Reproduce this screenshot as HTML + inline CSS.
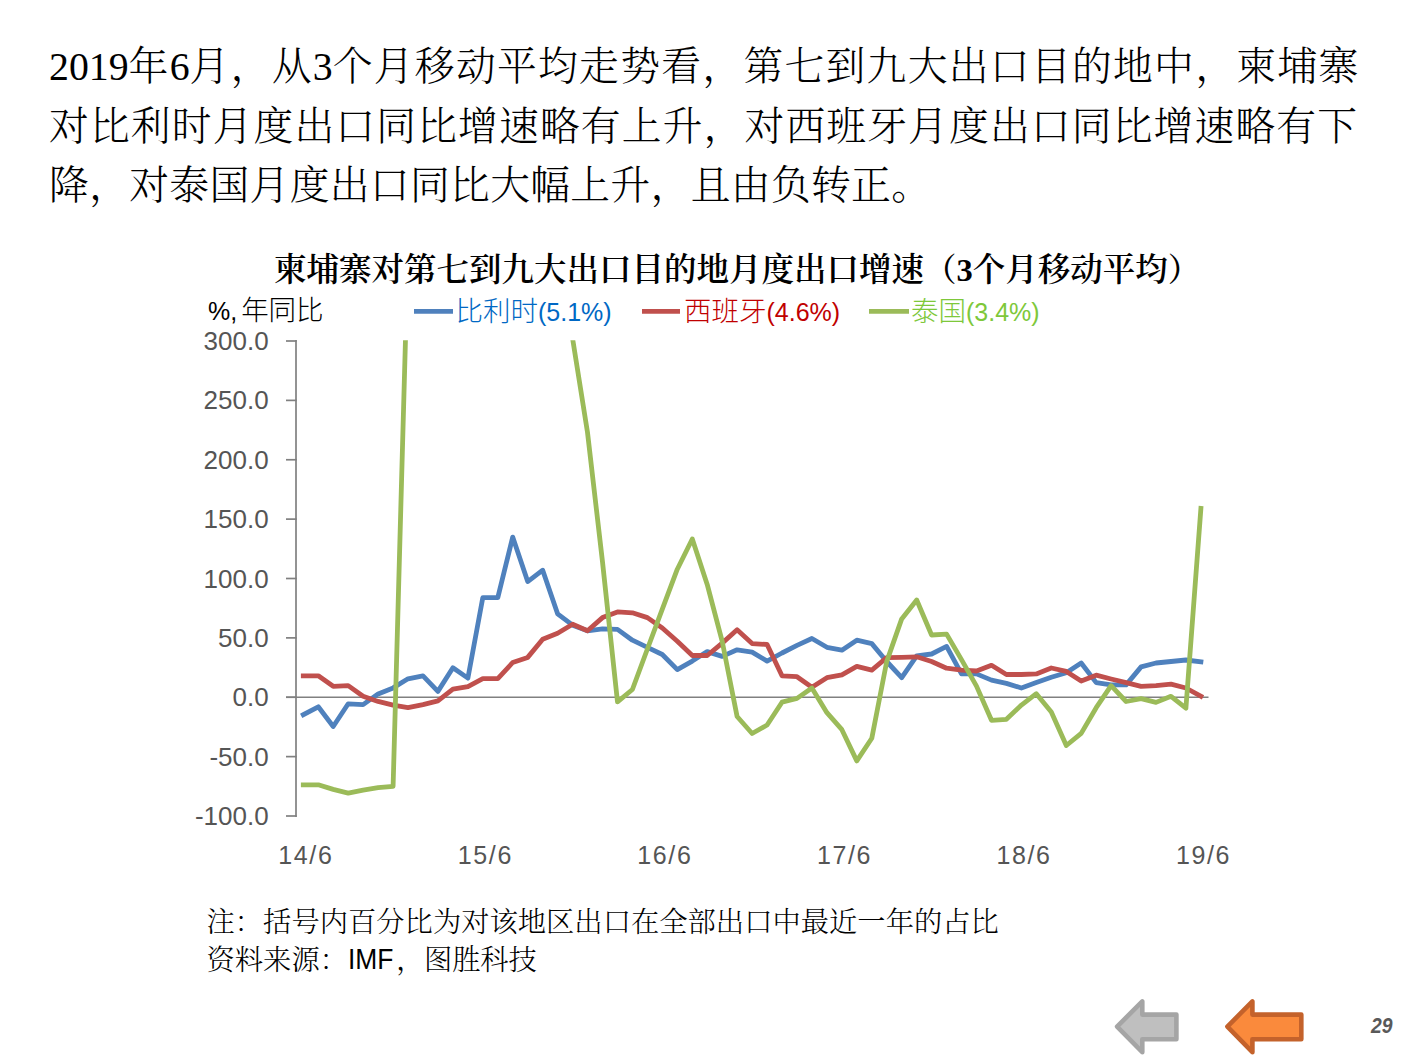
<!DOCTYPE html>
<html><head><meta charset="utf-8">
<style>
html,body{margin:0;padding:0;background:#fff;}
body{width:1411px;height:1058px;overflow:hidden;position:relative;}
svg{position:absolute;left:0;top:0;display:block;}
.para{font-family:"Liberation Serif","Noto Serif CJK SC",serif;font-size:39.8px;font-weight:300;fill:#000;}
.ttl{font-family:"Liberation Serif","Noto Serif CJK SC",serif;font-size:32.5px;font-weight:600;fill:#000;}
.ax{font-family:"Liberation Sans",sans-serif;font-size:25px;fill:#555555;}
.yl{font-size:26px;}
.lg{font-size:27.5px;font-weight:300;}
.cj{font-family:"Liberation Sans","Noto Sans CJK SC",sans-serif;}
.note{font-family:"Liberation Sans","Noto Serif CJK SC",serif;font-size:28.3px;font-weight:300;fill:#000;}
</style></head>
<body>
<svg width="1411" height="1058" viewBox="0 0 1411 1058">
<defs><clipPath id="pa"><rect x="290" y="340.3" width="930" height="480"/></clipPath></defs>
<g class="para">
<text x="49.0 68.9 88.8 108.7 128.6 169.7 189.6 230.6 271.7 312.8 332.7 373.8 414.8 455.9 497.0 538.1 579.1 620.2 661.3 702.3 743.4 784.5 825.6 866.6 907.7 948.8 989.8 1030.9 1072.0 1113.1 1154.1 1195.2 1236.3 1277.4 1318.4" y="80">2019年6月，从3个月移动平均走势看，第七到九大出口目的地中，柬埔寨</text>
<text x="49" y="139.5" textLength="1308" lengthAdjust="spacing">对比利时月度出口同比增速略有上升，对西班牙月度出口同比增速略有下</text>
<text x="49" y="199" textLength="882" lengthAdjust="spacing">降，对泰国月度出口同比大幅上升，且由负转正。</text>
</g>
<text class="ttl" x="274" y="281">柬埔寨对第七到九大出口目的地月度出口增速（3个月移动平均）</text>
<text class="ax cj" x="208" y="320" style="fill:#000">%, <tspan class="lg" dx="-3">年同比</tspan></text>
<g stroke-width="4.6" stroke-linecap="butt">
<line x1="414" y1="311.4" x2="453" y2="311.4" stroke="#4F81BD"/>
<line x1="642" y1="311.4" x2="680" y2="311.4" stroke="#C0504D"/>
<line x1="869" y1="311.4" x2="909" y2="311.4" stroke="#9BBB59"/>
</g>
<text class="ax cj" x="455.5" y="321" style="fill:#0068C4"><tspan class="lg">比利时</tspan>(5.1%)</text>
<text class="ax cj" x="684" y="321" style="fill:#C00000"><tspan class="lg">西班牙</tspan>(4.6%)</text>
<text class="ax cj" x="911" y="321" style="fill:#7EC83A"><tspan class="lg">泰国</tspan>(3.4%)</text>
<g stroke="#808080" stroke-width="1.7" fill="none">
<line x1="296" y1="340.1" x2="296" y2="816.9"/>
<line x1="286" y1="341.00" x2="296.7" y2="341.00"/>
<line x1="286" y1="400.38" x2="296.7" y2="400.38"/>
<line x1="286" y1="459.75" x2="296.7" y2="459.75"/>
<line x1="286" y1="519.12" x2="296.7" y2="519.12"/>
<line x1="286" y1="578.50" x2="296.7" y2="578.50"/>
<line x1="286" y1="637.88" x2="296.7" y2="637.88"/>
<line x1="286" y1="697.25" x2="296.7" y2="697.25"/>
<line x1="286" y1="756.62" x2="296.7" y2="756.62"/>
<line x1="286" y1="816.00" x2="296.7" y2="816.00"/>
<line x1="286" y1="697.25" x2="1208.5" y2="697.25"/>
</g>
<g class="ax yl" text-anchor="end">
<text x="268.7" y="350.0">300.0</text>
<text x="268.7" y="409.4">250.0</text>
<text x="268.7" y="468.8">200.0</text>
<text x="268.7" y="528.1">150.0</text>
<text x="268.7" y="587.5">100.0</text>
<text x="268.7" y="646.9">50.0</text>
<text x="268.7" y="706.2">0.0</text>
<text x="268.7" y="765.6">-50.0</text>
<text x="268.7" y="825.0">-100.0</text>
</g>
<g class="ax">
<text x="278.3" y="864" textLength="53.5" lengthAdjust="spacing">14/6</text>
<text x="457.8" y="864" textLength="53.5" lengthAdjust="spacing">15/6</text>
<text x="637.3" y="864" textLength="53.5" lengthAdjust="spacing">16/6</text>
<text x="816.9" y="864" textLength="53.5" lengthAdjust="spacing">17/6</text>
<text x="996.4" y="864" textLength="53.5" lengthAdjust="spacing">18/6</text>
<text x="1175.9" y="864" textLength="53.5" lengthAdjust="spacing">19/6</text>
</g>
<g clip-path="url(#pa)" fill="none" stroke-width="4.8" stroke-linejoin="round" stroke-linecap="square">
<path d="M303.3 714.7 L318.3 706.8 L333.2 726.5 L348.2 703.8 L363.1 704.6 L378.1 693.9 L393.1 687.9 L408.0 678.8 L423.0 675.8 L437.9 691.4 L452.9 667.7 L467.9 678.1 L482.8 597.6 L497.8 597.6 L512.7 537.1 L527.7 581.6 L542.7 570.2 L557.6 613.8 L572.6 625.2 L587.5 630.8 L602.5 628.9 L617.5 629.4 L632.4 640.2 L647.4 647.3 L662.3 654.5 L677.3 669.6 L692.3 661.1 L707.2 651.6 L722.2 656.4 L737.1 649.8 L752.1 652.1 L767.1 661.1 L782.0 653.0 L797.0 645.4 L811.9 638.5 L826.9 647.3 L841.9 650.2 L856.8 640.2 L871.8 643.6 L886.7 661.5 L901.7 677.7 L916.7 655.8 L931.6 654.0 L946.6 646.4 L961.5 673.9 L976.5 673.9 L991.5 680.1 L1006.4 683.4 L1021.4 688.0 L1036.3 682.6 L1051.3 677.3 L1066.3 672.8 L1081.2 663.0 L1096.2 682.6 L1111.1 684.9 L1126.1 684.9 L1141.1 666.9 L1156.0 663.0 L1171.0 661.5 L1185.9 660.0 L1200.9 661.9" stroke="#4F81BD"/>
<path d="M303.3 675.8 L318.3 675.8 L333.2 686.3 L348.2 685.6 L363.1 696.3 L378.1 701.4 L393.1 705.2 L408.0 707.6 L423.0 704.6 L437.9 700.8 L452.9 689.2 L467.9 686.7 L482.8 678.7 L497.8 678.7 L512.7 662.5 L527.7 657.4 L542.7 639.3 L557.6 633.2 L572.6 624.2 L587.5 630.8 L602.5 617.6 L617.5 611.9 L632.4 612.8 L647.4 617.6 L662.3 628.0 L677.3 641.2 L692.3 655.5 L707.2 655.5 L722.2 643.1 L737.1 629.8 L752.1 643.6 L767.1 644.5 L782.0 675.8 L797.0 676.7 L811.9 687.2 L826.9 677.7 L841.9 674.8 L856.8 666.4 L871.8 670.1 L886.7 657.7 L901.7 657.4 L916.7 656.8 L931.6 661.5 L946.6 668.2 L961.5 670.1 L976.5 671.0 L991.5 665.3 L1006.4 674.5 L1021.4 674.5 L1036.3 673.9 L1051.3 668.0 L1066.3 671.4 L1081.2 681.1 L1096.2 675.2 L1111.1 679.0 L1126.1 682.6 L1141.1 686.4 L1156.0 685.7 L1171.0 684.2 L1185.9 688.0 L1200.9 696.3" stroke="#C0504D"/>
<path d="M303.3 784.8 L318.3 784.8 L333.2 789.4 L348.2 793.1 L363.1 790.1 L378.1 787.7 L393.1 786.3 L408.0 248.4 L423.0 103.5 L437.9 103.5 L452.9 103.5 L467.9 103.5 L482.8 103.5 L497.8 103.5 L512.7 103.5 L527.7 103.5 L542.7 103.5 L557.6 198.5 L572.6 338.6 L587.5 432.4 L602.5 561.9 L617.5 701.9 L632.4 689.5 L647.4 649.0 L662.3 609.1 L677.3 569.2 L692.3 539.0 L707.2 584.4 L722.2 641.4 L737.1 716.5 L752.1 733.5 L767.1 725.0 L782.0 702.2 L797.0 698.4 L811.9 688.0 L826.9 712.7 L841.9 729.7 L856.8 760.9 L871.8 738.2 L886.7 661.6 L901.7 618.9 L916.7 600.0 L931.6 635.0 L946.6 634.1 L961.5 659.6 L976.5 686.1 L991.5 720.3 L1006.4 719.3 L1021.4 705.1 L1036.3 693.7 L1051.3 712.1 L1066.3 745.5 L1081.2 733.4 L1096.2 707.7 L1111.1 685.7 L1126.1 701.5 L1141.1 698.6 L1156.0 702.4 L1171.0 696.3 L1185.9 708.2 L1200.9 508.4" stroke="#9BBB59"/>
</g>
<g class="note">
<text x="206.5" y="932">注：括号内百分比为对该地区出口在全部出口中最近一年的占比</text>
<text x="206.5" y="969.5">资料来源：<tspan style="font-size:29.5px" dy="-0.8" textLength="45.5" lengthAdjust="spacingAndGlyphs">IMF</tspan><tspan dy="0.8" dx="2.5" style="letter-spacing:-0.2px">，图胜科技</tspan></text>
</g>
<polygon points="1117.1,1026.6 1142.3,1001.4 1142.3,1014.6 1176.4,1014.6 1176.4,1039.2 1142.3,1039.2 1142.3,1052.2" fill="#BFBFBF" stroke="#A5A5A5" stroke-width="4.6" stroke-linejoin="round"/>
<polygon points="1227.4,1026.6 1252.4,1001.4 1252.4,1014.6 1301.3,1014.6 1301.3,1039.2 1252.4,1039.2 1252.4,1052.2" fill="#FA8A3C" stroke="#C4622B" stroke-width="4.6" stroke-linejoin="round"/>
<text x="1371" y="1033" textLength="21.5" lengthAdjust="spacingAndGlyphs" style="font-family:'Liberation Sans',sans-serif;font-size:21.5px;font-weight:700;font-style:italic;fill:#595959">29</text>
</svg>
</body></html>
